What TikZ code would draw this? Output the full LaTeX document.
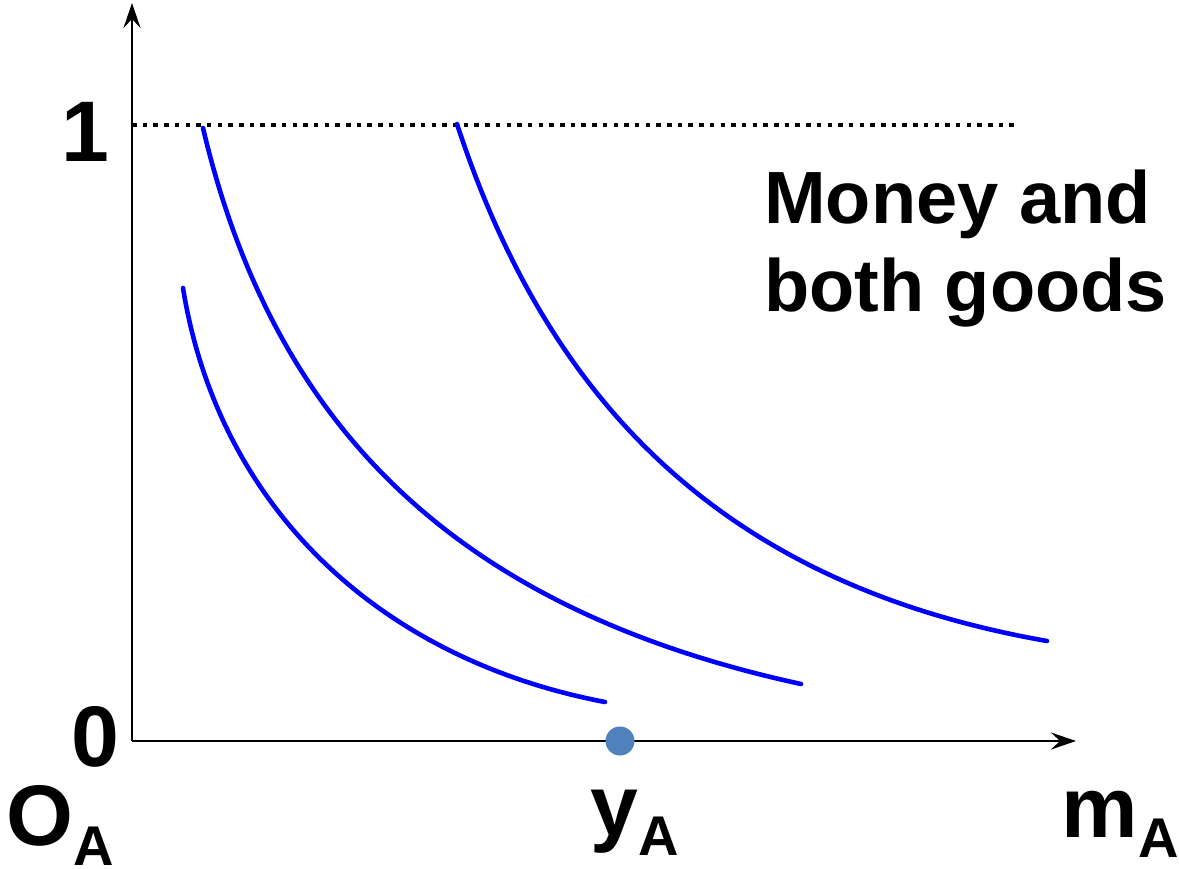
\documentclass[tikz,border=0pt]{standalone}
\usepackage{fontspec}
\setmainfont{Liberation Sans}
\usetikzlibrary{arrows.meta}
\definecolor{curveblue}{RGB}{0,0,255}
\definecolor{dotblue}{RGB}{79,129,189}
\newcommand{\bigfont}{\fontsize{86}{86}\selectfont\bfseries}
\newcommand{\subA}{\raisebox{-20pt}{\fontsize{56}{56}\selectfont\bfseries A}}
\begin{document}
\begin{tikzpicture}[x=1pt,y=-1pt,
  axis/.style={line width=2.8pt,-{Stealth[length=25pt,width=17pt,inset=9pt]}},
  curve/.style={line width=4.6pt,curveblue,line cap=round},
  lbl/.style={inner sep=0pt,anchor=base,font=\bigfont},
  txt/.style={inner sep=0pt,anchor=base west,font=\fontsize{74}{74}\selectfont\bfseries}]
\useasboundingbox (0,0) rectangle (1179,869);
\coordinate (O) at (132,741);
\coordinate (ytop) at (132,3);
\coordinate (xend) at (1076,741);
\coordinate (d1) at (132,125);
\coordinate (d2) at (1020,125);
\draw[axis] (O) -- (ytop);
\draw[axis] (O) -- (xend);
\draw[line width=4pt,dash pattern=on 4.5pt off 6.2pt] (d1) -- (d2);
% indifference curves
\coordinate (a0) at (183,288);
\coordinate (a1) at (605,702);
\draw[curve] (a0) .. controls (217.8,503.7) and (375.2,658.1) .. (a1);
\coordinate (b0) at (203,128);
\coordinate (b1) at (801,684);
\draw[curve] (b0) .. controls (273.7,427.5) and (456.6,609.1) .. (b1);
\coordinate (c0) at (457,124);
\coordinate (c1) at (1047,641);
\draw[curve] (c0) .. controls (554.4,422.4) and (743.2,587.8) .. (c1);
\node[circle,fill=dotblue,minimum size=29pt,inner sep=0pt] (yA) at (620,741) {};
\node[lbl] (one) at (85,162) {1};
\node[lbl] (zero) at (95,766) {0};
\node[lbl] (OA) at (60,845) {O\subA};
\node[lbl] (yAl) at (635,835) {y\subA};
\node[lbl] (mA) at (1120,837) {m\subA};
\node[txt] (t1) at (764,224) {Money and};
\node[txt] (t2) at (764,312) {both goods};
\end{tikzpicture}
\end{document}
